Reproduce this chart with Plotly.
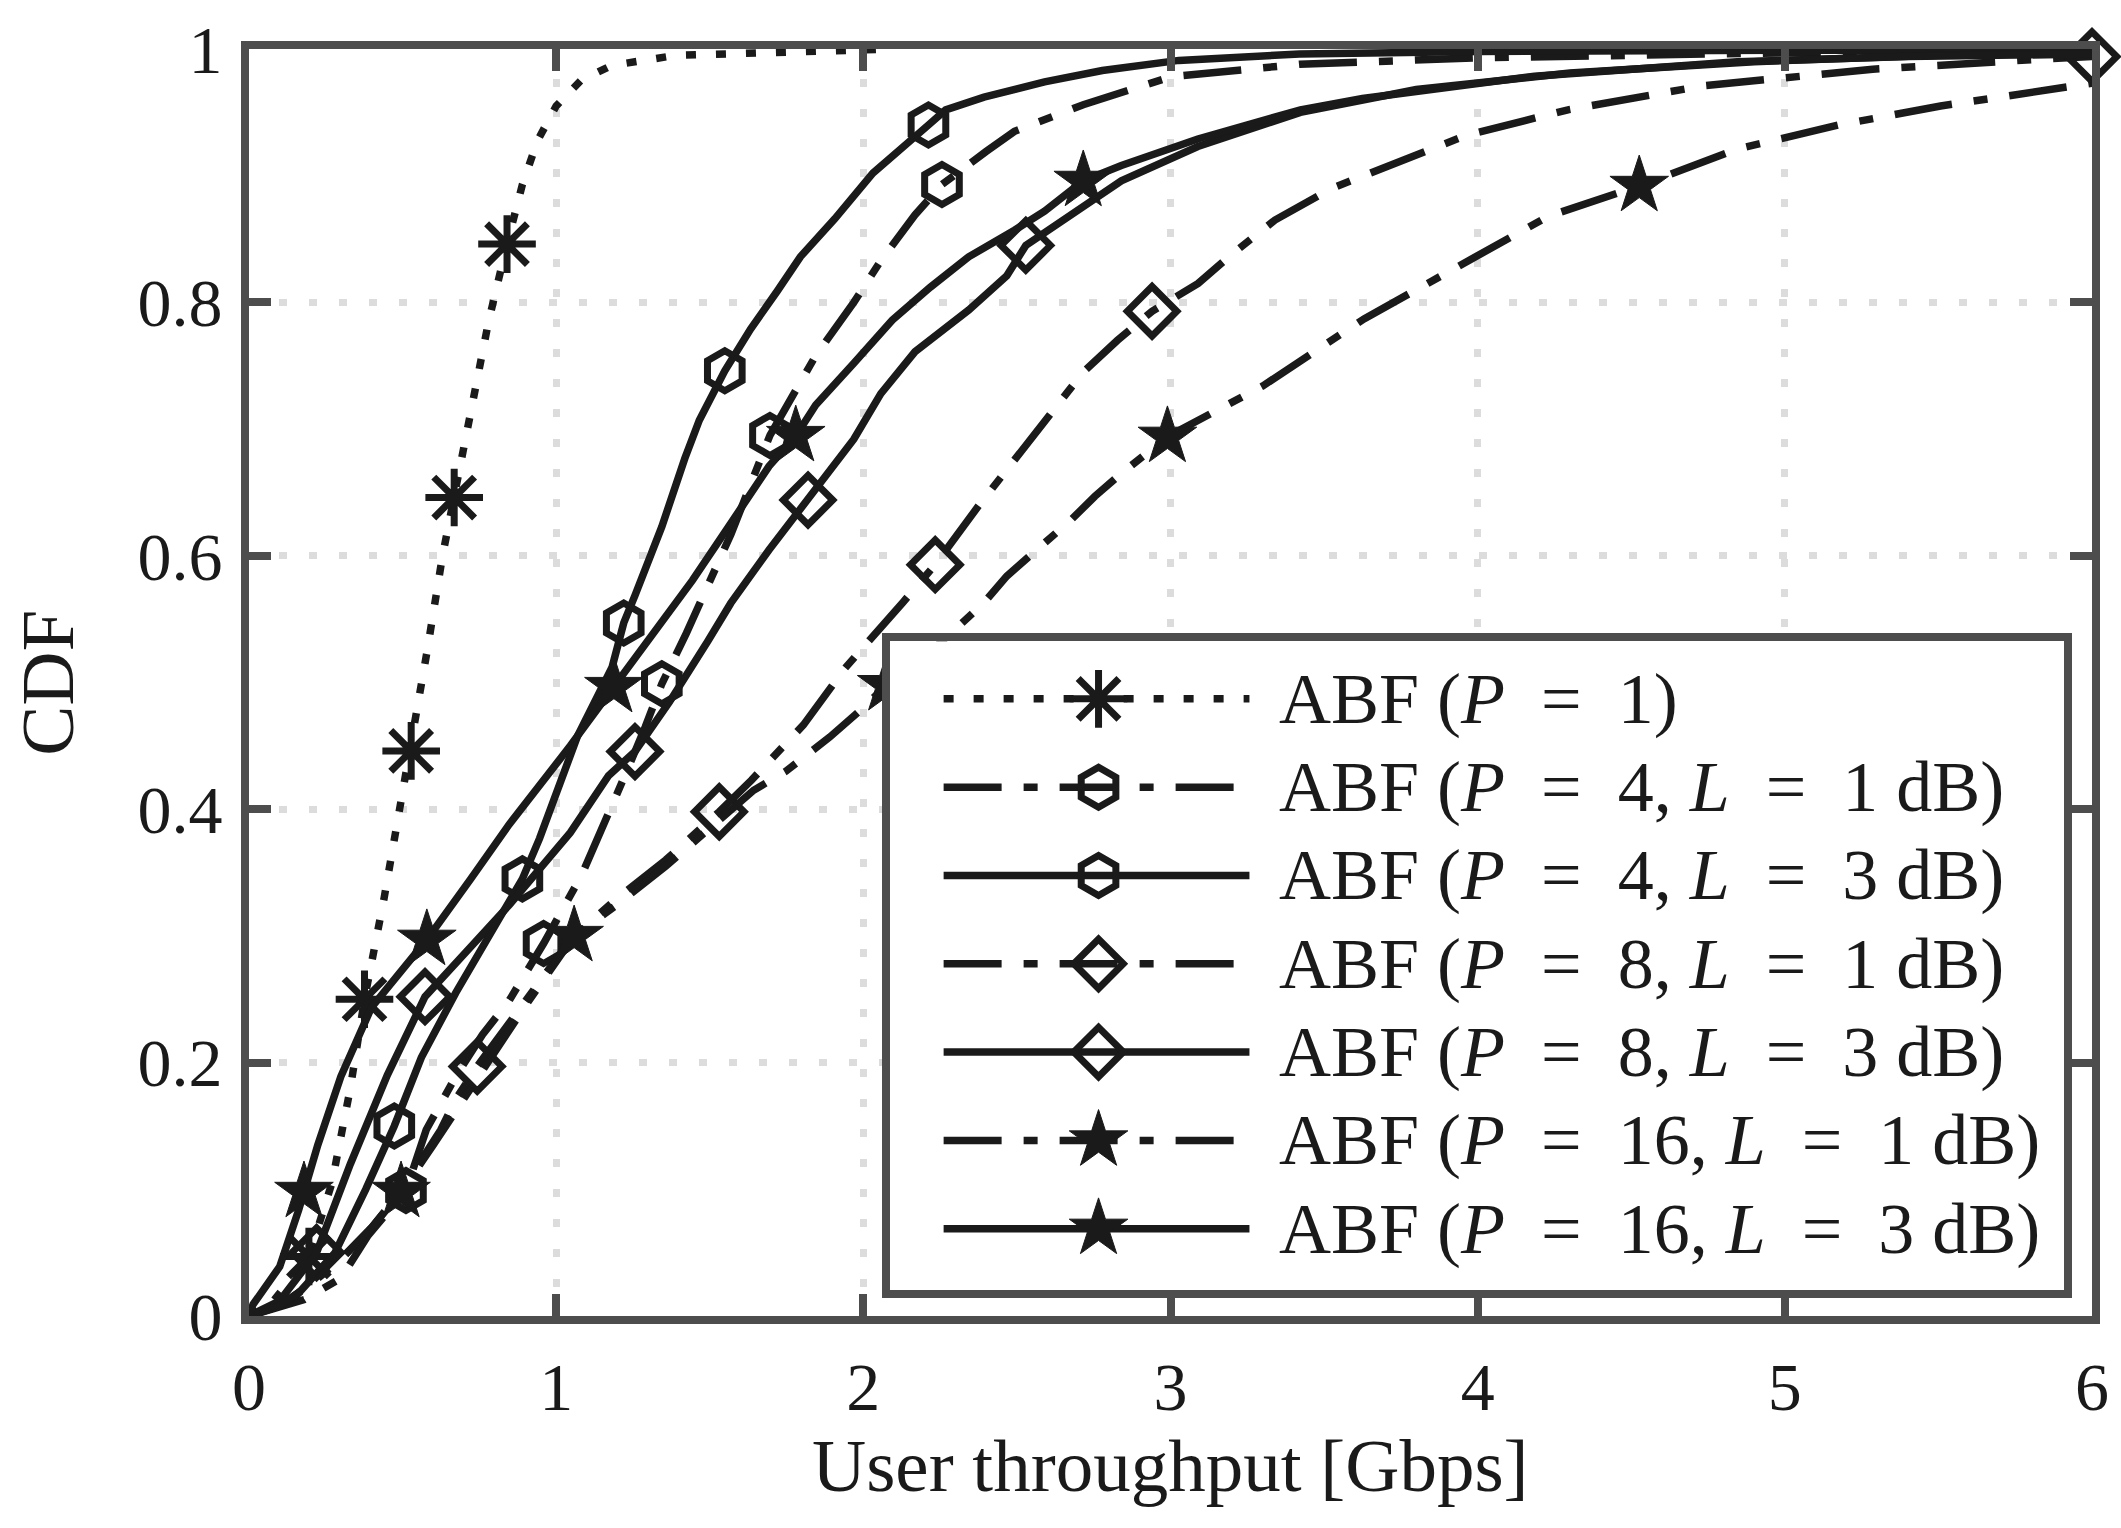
import plotly.graph_objects as go

# CDF of user throughput (x in Gbps)
p1_x = [0, 0.08, 0.195, 0.27, 0.33, 0.376, 0.44, 0.49, 0.528, 0.58, 0.63, 0.668, 0.72, 0.78,
        0.84, 0.89, 0.94, 1.0, 1.08, 1.18, 1.39, 1.9, 2.1]
p1_y = [0, 0.012, 0.047, 0.105, 0.18, 0.25, 0.33, 0.40, 0.446, 0.525, 0.6, 0.646, 0.71, 0.785,
        0.846, 0.893, 0.928, 0.955, 0.975, 0.987, 0.995, 0.9994, 1.0]
p1_mx = [0.195, 0.376, 0.528, 0.668, 0.84]
p1_my = [0.047, 0.25, 0.446, 0.646, 0.846]

p4l1_x = [0, 0.18, 0.30, 0.386, 0.511, 0.577, 0.673, 0.76, 0.847, 0.959, 1.083, 1.16, 1.23,
          1.29, 1.344, 1.424, 1.50, 1.569, 1.696, 1.795, 1.845, 1.969, 2.057, 2.168, 2.256,
          2.399, 2.492, 2.716, 3.0, 3.42, 4.0, 5.0, 6.0]
p4l1_y = [0, 0.013, 0.030, 0.063, 0.099, 0.147, 0.189, 0.222, 0.249, 0.294, 0.348, 0.39, 0.43,
          0.465, 0.499, 0.539, 0.58, 0.617, 0.695, 0.737, 0.758, 0.80, 0.833, 0.869, 0.893,
          0.919, 0.935, 0.956, 0.978, 0.988, 0.993, 0.997, 0.999]
p4l1_mx = [0.511, 0.959, 1.344, 1.696, 2.256]
p4l1_my = [0.099, 0.294, 0.499, 0.695, 0.893]

p4l3_x = [0, 0.15, 0.28, 0.38, 0.473, 0.561, 0.673, 0.785, 0.89, 0.946, 1.07, 1.182, 1.22,
          1.257, 1.344, 1.419, 1.466, 1.549, 1.633, 1.72, 1.795, 1.907, 2.031, 2.212, 2.268,
          2.393, 2.59, 2.778, 3.027, 3.42, 4.0, 5.0, 6.0]
p4l3_y = [0, 0.015, 0.05, 0.10, 0.15, 0.204, 0.255, 0.303, 0.345, 0.377, 0.458, 0.512, 0.547,
          0.569, 0.623, 0.677, 0.707, 0.746, 0.779, 0.809, 0.836, 0.866, 0.902, 0.94, 0.952,
          0.962, 0.974, 0.983, 0.991, 0.996, 0.998, 0.999, 0.999]
p4l3_mx = [0.473, 0.89, 1.22, 1.549, 2.212]
p4l3_my = [0.15, 0.345, 0.547, 0.746, 0.94]

p8l1_x = [0, 0.1, 0.2, 0.3, 0.4, 0.5, 0.6245, 0.673, 0.743, 0.85, 0.95, 1.05, 1.2, 1.357,
          1.531, 1.636, 1.805, 1.941, 2.128, 2.234, 2.38, 2.554, 2.716, 2.827, 2.94, 3.09,
          3.2, 3.34, 3.524, 3.964, 4.294, 4.735, 5.286, 5.836, 6.0]
p8l1_y = [0, 0.008, 0.025, 0.045, 0.07, 0.1, 0.147, 0.171, 0.197, 0.232, 0.265, 0.298, 0.33,
          0.36, 0.398, 0.423, 0.4665, 0.5115, 0.563, 0.593, 0.641, 0.695, 0.745, 0.77, 0.793,
          0.815, 0.838, 0.865, 0.89, 0.932, 0.952, 0.971, 0.984, 0.992, 0.994]
p8l1_mx = [0.743, 1.531, 2.234, 2.94, 6.0]
p8l1_my = [0.197, 0.398, 0.593, 0.793, 0.994]

p8l3_x = [0, 0.1, 0.22, 0.33, 0.45, 0.573, 0.7223, 0.847, 1.0459, 1.1704, 1.2566, 1.3687,
          1.4936, 1.5685, 1.6927, 1.82, 1.969, 2.057, 2.168, 2.343, 2.467, 2.529, 2.716, 2.84,
          3.089, 3.423, 3.8, 4.3, 4.9, 5.5, 6.0]
p8l3_y = [0, 0.012, 0.05, 0.12, 0.19, 0.252, 0.2914, 0.3244, 0.3815, 0.4265, 0.4455, 0.4846,
          0.5326, 0.5626, 0.6046, 0.644, 0.692, 0.728, 0.761, 0.794, 0.821, 0.845, 0.875, 0.896,
          0.923, 0.950, 0.968, 0.981, 0.99, 0.995, 0.997]
p8l3_mx = [0.22, 0.573, 1.2566, 1.82, 2.529]
p8l3_my = [0.05, 0.252, 0.4455, 0.644, 0.845]

p16l1_x = [0, 0.1, 0.2, 0.3, 0.4, 0.495, 0.6, 0.75, 0.9, 1.0585, 1.2, 1.357, 1.5, 1.643,
           1.748, 1.891, 1.99, 2.076, 2.2, 2.393, 2.467, 2.679, 2.754, 2.84, 2.99, 3.30, 3.63,
           3.964, 4.23, 4.526, 4.845, 5.175, 5.507, 6.0]
p16l1_y = [0, 0.008, 0.025, 0.045, 0.07, 0.098, 0.135, 0.19, 0.245, 0.3, 0.325, 0.355, 0.385,
           0.415, 0.43, 0.457, 0.478, 0.498, 0.52, 0.563, 0.584, 0.629, 0.647, 0.665, 0.694,
           0.734, 0.787, 0.833, 0.868, 0.892, 0.921, 0.94, 0.955, 0.973]
p16l1_mx = [0.495, 1.0585, 2.076, 2.99, 4.526]
p16l1_my = [0.098, 0.3, 0.498, 0.694, 0.892]

p16l3_x = [0, 0.013, 0.1, 0.162, 0.224, 0.299, 0.3987, 0.579, 0.722, 0.847, 1.046, 1.188,
           1.319, 1.4435, 1.5685, 1.6927, 1.78, 1.845, 1.969, 2.094, 2.218, 2.343, 2.492, 2.59,
           2.716, 2.84, 3.089, 3.423, 3.625, 4.185, 4.845, 5.4, 6.0]
p16l3_y = [0, 0.009, 0.039, 0.084, 0.135, 0.189, 0.2435, 0.297, 0.345, 0.388, 0.45, 0.4965,
           0.5414, 0.5806, 0.6256, 0.6706, 0.6946, 0.719, 0.752, 0.786, 0.812, 0.836, 0.857,
           0.872, 0.896, 0.908, 0.929, 0.952, 0.961, 0.9785, 0.99, 0.994, 0.996]
p16l3_mx = [0.179, 0.579, 1.188, 1.78, 2.716]
p16l3_my = [0.098, 0.297, 0.4965, 0.6946, 0.896]

EQ = "\u2002=\u2002"
labels = [
    f"ABF (<i>P</i>{EQ}1)",
    f"ABF (<i>P</i>{EQ}4, <i>L</i>{EQ}1 dB)",
    f"ABF (<i>P</i>{EQ}4, <i>L</i>{EQ}3 dB)",
    f"ABF (<i>P</i>{EQ}8, <i>L</i>{EQ}1 dB)",
    f"ABF (<i>P</i>{EQ}8, <i>L</i>{EQ}3 dB)",
    f"ABF (<i>P</i>{EQ}16, <i>L</i>{EQ}1 dB)",
    f"ABF (<i>P</i>{EQ}16, <i>L</i>{EQ}3 dB)",
]
x_ticks = [0, 1, 2, 3, 4, 5, 6]
y_ticks = [0, 0.2, 0.4, 0.6, 0.8, 1]

FONT = "Liberation Serif"
INK = "#1a1a1a"
FRAME = "#4d4d4d"
DOT = "10px,20px"
DASHDOT = "58px,22px,14px,22px"
LW = 7.5

series = [
    (p1_x, p1_y, p1_mx, p1_my, DOT, "asterisk-open", 48),
    (p4l1_x, p4l1_y, p4l1_mx, p4l1_my, DASHDOT, "hexagon-open", 40),
    (p4l3_x, p4l3_y, p4l3_mx, p4l3_my, "solid", "hexagon-open", 40),
    (p8l1_x, p8l1_y, p8l1_mx, p8l1_my, DASHDOT, "diamond-open", 38),
    (p8l3_x, p8l3_y, p8l3_mx, p8l3_my, "solid", "diamond-open", 38),
    (p16l1_x, p16l1_y, p16l1_mx, p16l1_my, DASHDOT, "star", 44),
    (p16l3_x, p16l3_y, p16l3_mx, p16l3_my, "solid", "star", 44),
]

W, H = 2121, 1528
ML, MR, MT, MB = 249, 28, 39.5, 211.5
PW, PH = W - ML - MR, H - MT - MB

# legend box (pixel edges inside the border)
LX0, LX1, LY0, LY1 = 890, 2065, 636.5, 1290
ROW0, ROWSTEP = 58, 89
LINE0, LINE1, MARKX, TEXTX = 54, 360, 209, 388

fig = go.Figure()


def marker_style(symbol, size):
    return dict(symbol=symbol, size=size, color=INK,
                line=dict(color=INK, width=7 if "open" in symbol else 1))


for x, y, mx, my, dash, symbol, size in series:
    fig.add_trace(go.Scatter(x=x, y=y, mode="lines", showlegend=False, hoverinfo="skip",
                             line=dict(color=INK, width=LW, dash=dash)))
    fig.add_trace(go.Scatter(x=mx, y=my, mode="markers", showlegend=False, hoverinfo="skip",
                             cliponaxis=False, marker=marker_style(symbol, size)))

# hand-drawn legend in its own small subplot
for i, (x, y, mx, my, dash, symbol, size) in enumerate(series):
    row = ROW0 + i * ROWSTEP
    fig.add_trace(go.Scatter(x=[LINE0, LINE1], y=[row, row], mode="lines", xaxis="x2",
                             yaxis="y2", showlegend=False, hoverinfo="skip",
                             line=dict(color=INK, width=LW, dash=dash)))
    fig.add_trace(go.Scatter(x=[MARKX], y=[row], mode="markers", xaxis="x2", yaxis="y2",
                             showlegend=False, hoverinfo="skip",
                             marker=marker_style(symbol, size)))
    fig.add_annotation(x=TEXTX, y=row, xref="x2", yref="y2", text=labels[i],
                       showarrow=False, xanchor="left", yanchor="middle",
                       font=dict(family=FONT, size=72, color=INK))

axis_common = dict(
    ticks="inside", ticklen=22, tickwidth=8, tickcolor=FRAME,
    showline=True, linewidth=8, linecolor=FRAME, mirror="ticks",
    showgrid=True, gridcolor="#dcdcdc", gridwidth=7, griddash="8px,22px",
    zeroline=False, fixedrange=True,
    tickfont=dict(family=FONT, size=68, color=INK),
)

fig.update_layout(
    width=W, height=H,
    margin=dict(l=ML, r=MR, t=MT, b=MB, pad=0),
    paper_bgcolor="white", plot_bgcolor="white",
    showlegend=False,
    xaxis=dict(range=[0, 6], tickvals=x_ticks, ticklabelstandoff=4, **axis_common),
    yaxis=dict(range=[0, 1], tickvals=y_ticks, ticklabelstandoff=5, **axis_common),
    xaxis2=dict(domain=[(LX0 - ML) / PW, (LX1 - ML) / PW], range=[0, LX1 - LX0],
                anchor="y2", showline=True, linewidth=8, linecolor=FRAME, mirror=True,
                showgrid=False, zeroline=False, showticklabels=False, ticks="",
                fixedrange=True),
    yaxis2=dict(domain=[(MT + PH - LY1) / PH, (MT + PH - LY0) / PH], range=[LY1 - LY0, 0],
                anchor="x2", showline=True, linewidth=8, linecolor=FRAME, mirror=True,
                showgrid=False, zeroline=False, showticklabels=False, ticks="",
                fixedrange=True),
)

fig.add_annotation(x=0.5, y=-0.118, xref="paper", yref="paper", showarrow=False,
                   text="User throughput [Gbps]", yanchor="middle",
                   font=dict(family=FONT, size=75, color=INK))
fig.add_annotation(x=-0.1095, y=0.5, xref="paper", yref="paper", showarrow=False,
                   text="CDF", textangle=-90, xanchor="center",
                   font=dict(family=FONT, size=75, color=INK))

fig.write_html("out.html", config={"displayModeBar": False},
               post_script="document.body.style.margin='0';")
